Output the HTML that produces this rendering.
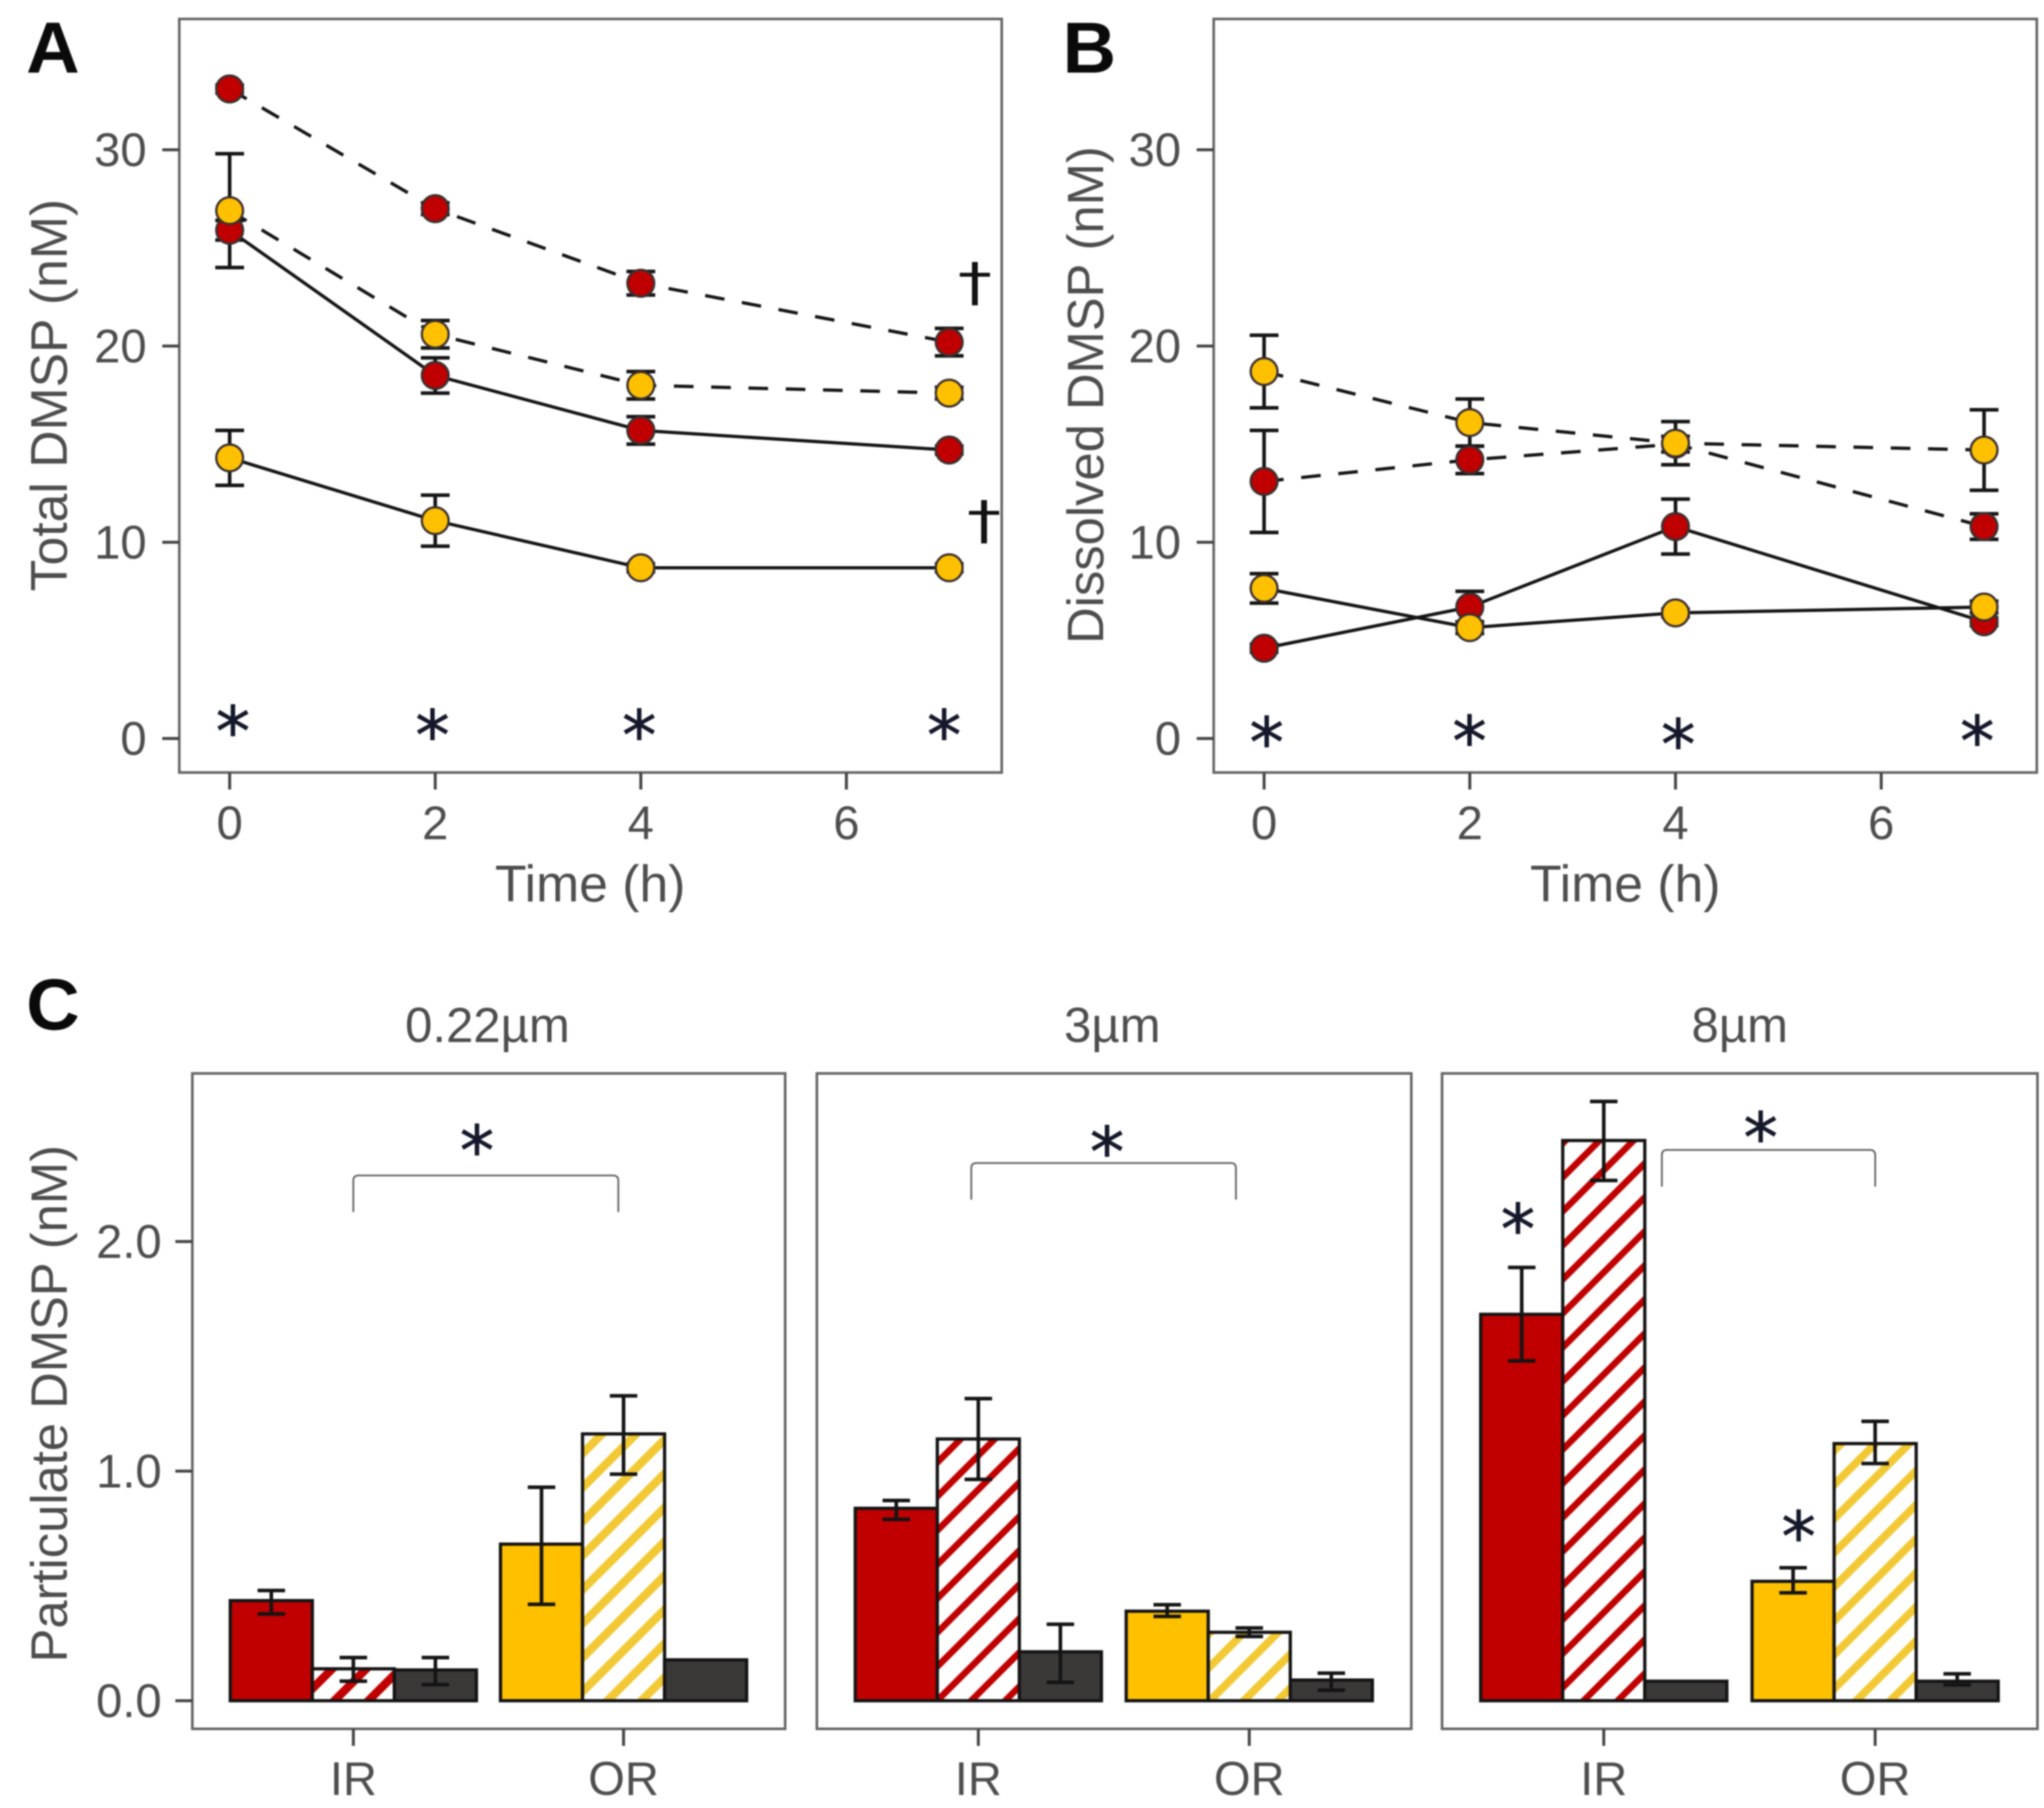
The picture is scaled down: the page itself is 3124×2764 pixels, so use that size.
<!DOCTYPE html>
<html lang="en">
<head>
<meta charset="utf-8">
<title>DMSP concentrations</title>
<style>
html,body{margin:0;padding:0;background:#fff;}
#figure{display:block;width:3124px;height:2764px;filter:blur(1.1px);}
text{font-family:"Liberation Sans",sans-serif;fill:#4d4d4d;}
.tick{font-size:72px;}
.title{font-size:79px;}
.title-long{font-size:77.5px;}
.facet{font-size:75px;}
.panel{fill:#fff;stroke:#666;stroke-width:4;}
.tickmark{stroke:#444;stroke-width:4.5;}
.letter{font-size:110px;font-weight:bold;fill:#0a0a0a;}
.star{font-family:"DejaVu Sans",sans-serif;font-size:105px;fill:#14182a;stroke:#14182a;stroke-width:1;text-anchor:middle;}
.dagger{font-family:"DejaVu Sans",sans-serif;font-size:80px;fill:#111;text-anchor:middle;}
.bracket{fill:none;stroke:#666;stroke-width:2.8;}
</style>
</head>
<body>
<svg id="figure" xmlns="http://www.w3.org/2000/svg" width="3124" height="2764" viewBox="0 0 3124 2764">
  <defs>
    <pattern id="hatch-red" width="36.77" height="36.77" patternUnits="userSpaceOnUse" patternTransform="rotate(-45)">
      <rect width="36.77" height="36.77" fill="#fff"/>
      <rect y="15" width="36.77" height="10" fill="#c00000"/>
    </pattern>
    <pattern id="hatch-yellow" width="36.77" height="36.77" patternUnits="userSpaceOnUse" patternTransform="rotate(-45)">
      <rect width="36.77" height="36.77" fill="#fff"/>
      <rect y="14.5" width="36.77" height="12" fill="#f2c935"/>
    </pattern>
    <pattern id="hatch-red-c1" width="36.77" height="36.77" patternUnits="userSpaceOnUse" patternTransform="rotate(-45)">
      <rect width="36.77" height="36.77" fill="#fff"/>
      <rect y="24" width="36.77" height="13" fill="#c00000"/>
    </pattern>
    <pattern id="hatch-yellow-c1" width="36.77" height="36.77" patternUnits="userSpaceOnUse" patternTransform="rotate(-45)">
      <rect width="36.77" height="36.77" fill="#fff"/>
      <rect y="25" width="36.77" height="11.77" fill="#f2c935"/>
      <rect y="0" width="36.77" height="1" fill="#f2c935"/>
    </pattern>
  </defs>

  <rect class="panel" x="274" y="29" width="1257" height="1152"/>
  <rect class="panel" x="1855" y="29" width="1258" height="1152"/>
  <rect class="panel" x="294" y="1641" width="906" height="1002"/>
  <rect class="panel" x="1248.5" y="1641" width="908.5" height="1002"/>
  <rect class="panel" x="2204" y="1641" width="910" height="1002"/>

  <g id="axes-layer"></g>
  <g id="marks-layer"></g>

  <text class="letter" transform="translate(40 111) scale(1.03 1)">A</text>
  <text class="letter" transform="translate(1624 111) scale(1.03 1)">B</text>
  <text class="letter" transform="translate(40 1574) scale(1.03 1)">C</text>

  <text class="title" text-anchor="middle" transform="translate(102 604) rotate(-90)">Total DMSP (nM)</text>
  <text class="title-long" text-anchor="middle" transform="translate(1686 604) rotate(-90)">Dissolved DMSP (nM)</text>
  <text class="title-long" text-anchor="middle" transform="translate(102 2146) rotate(-90)">Particulate DMSP (nM)</text>
  <text class="title" text-anchor="middle" x="902" y="1378">Time (h)</text>
  <text class="title" text-anchor="middle" x="2484" y="1378">Time (h)</text>
  <text class="facet" text-anchor="middle" x="745" y="1593">0.22µm</text>
  <text class="facet" text-anchor="middle" x="1700" y="1593">3µm</text>
  <text class="facet" text-anchor="middle" x="2659" y="1593">8µm</text>

  <text class="star" x="356" y="1155">*</text>
  <text class="star" x="661" y="1161">*</text>
  <text class="star" x="977" y="1161">*</text>
  <text class="star" x="1443" y="1161">*</text>
  <text class="star" x="1936" y="1172">*</text>
  <text class="star" x="2246" y="1170">*</text>
  <text class="star" x="2565" y="1175">*</text>
  <text class="star" x="3022" y="1170">*</text>
  <text class="star" x="729" y="1796">*</text>
  <text class="star" x="1692" y="1798">*</text>
  <text class="star" x="2691" y="1776">*</text>
  <text class="star" x="2320" y="1916">*</text>
  <text class="star" x="2749" y="2386">*</text>
  <text class="dagger" transform="translate(1490 459) scale(1.3 1)">†</text>
  <text class="dagger" transform="translate(1504 823) scale(1.3 1)">†</text>

  <path class="bracket" d="M540 1853V1805Q540 1797 548 1797H937Q945 1797 945 1805V1853"/>
  <path class="bracket" d="M1484.5 1834V1786Q1484.5 1778 1492.5 1778H1881Q1889 1778 1889 1786V1834"/>
  <path class="bracket" d="M2540 1814V1766Q2540 1758 2548 1758H2858Q2866 1758 2866 1766V1814"/>
</svg>

<script>
const timePoints = [0, 2, 4, 7];
const timeTicks = [0, 2, 4, 6];
const dmspTicks = [0, 10, 20, 30];
const particulateTicks = [0, 1, 2];
const particulateTickLabels = ['0.0', '1.0', '2.0'];
const stations = ['IR', 'OR'];

const aRedDashed = [33.1, 27.0, 23.2, 20.2];
const aRedDashedErr = [0.2, 0.3, 0.6, 0.7];
const aRedSolid = [25.9, 18.5, 15.7, 14.7];
const aRedSolidErr = [0.5, 0.9, 0.7, 0.2];
const aYellowDashed = [26.9, 20.6, 18.0, 17.6];
const aYellowDashedErr = [2.9, 0.7, 0.7, 0.3];
const aYellowSolid = [14.3, 11.1, 8.7, 8.7];
const aYellowSolidErr = [1.4, 1.3, 0.2, 0.2];

const bRedDashed = [13.1, 14.2, 15.0, 10.8];
const bRedDashedErr = [2.6, 0.7, 0.4, 0.65];
const bRedSolid = [4.6, 6.7, 10.8, 5.95];
const bRedSolidErr = [0.2, 0.8, 1.4, 0.2];
const bYellowDashed = [18.7, 16.1, 15.05, 14.7];
const bYellowDashedErr = [1.85, 1.2, 1.1, 2.05];
const bYellowSolid = [7.65, 5.65, 6.4, 6.7];
const bYellowSolidErr = [0.75, 0.3, 0.2, 0.3];

const c1Values = [0.436, 0.139, 0.134, 0.682, 1.162, 0.178];
const c1Low = [0.378, 0.085, 0.07, 0.42, 0.987, null];
const c1High = [0.48, 0.188, 0.188, 0.93, 1.328, null];
const c2Values = [0.838, 1.14, 0.213, 0.39, 0.298, 0.09];
const c2Low = [0.79, 0.964, 0.08, 0.367, 0.28, 0.046];
const c2High = [0.872, 1.316, 0.333, 0.418, 0.317, 0.12];
const c3Values = [1.683, 2.44, 0.085, 0.52, 1.12, 0.085];
const c3Low = [1.48, 2.266, null, 0.47, 1.033, 0.069];
const c3High = [1.887, 2.61, null, 0.579, 1.217, 0.117];

const SVGNS = 'http://www.w3.org/2000/svg';
const axesLayer = document.getElementById('axes-layer');
const marksLayer = document.getElementById('marks-layer');
const RED = '#c00000';
const YELLOW = '#ffc000';
const DARK = '#3b3838';

function make(tag, parent, attrs) {
  const node = document.createElementNS(SVGNS, tag);
  Object.keys(attrs).forEach(function (k) { node.setAttribute(k, attrs[k]); });
  parent.appendChild(node);
  return node;
}

function yTime(v) { return 1129 - 30 * v; }
function xPanelA(t) { return 351 + 157.1 * t; }
function xPanelB(t) { return 1932 + 157.2 * t; }
function yBar(v) { return 2600 - 351 * v; }

function drawTimeAxes(prefix, xFn, frameLeft, frameBottom) {
  timeTicks.forEach(function (t) {
    const m = make('line', axesLayer, { x1: xFn(t), x2: xFn(t), y1: frameBottom, y2: frameBottom + 26, class: 'tickmark' });
    
    
    const l = make('text', axesLayer, { x: xFn(t), y: 1283, class: 'tick', 'text-anchor': 'middle' });
    l.textContent = String(t);
    
    
  });
  dmspTicks.forEach(function (v) {
    const m = make('line', axesLayer, { x1: frameLeft - 26, x2: frameLeft, y1: yTime(v), y2: yTime(v), class: 'tickmark' });
    
    
    const l = make('text', axesLayer, { x: frameLeft - 50, y: yTime(v) + 25, class: 'tick', 'text-anchor': 'end' });
    l.textContent = String(v);
    
    
  });
}

function drawError(parent, x, yTop, yBottom, half) {
  return make('path', parent, {
    d: 'M' + (x - half) + ' ' + yTop + 'H' + (x + half) + 'M' + x + ' ' + yTop + 'V' + yBottom + 'M' + (x - half) + ' ' + yBottom + 'H' + (x + half),
    fill: 'none', stroke: '#141414', 'stroke-width': 5.5
  });
}

function drawSeriesLines(name, xFn, vals, errs, dashed) {
  const g = make('g', marksLayer, {});
  
  
  timePoints.forEach(function (t, i) {
    const e = drawError(g, xFn(t), yTime(vals[i] + errs[i]), yTime(vals[i] - errs[i]), 22);
    
    
  });
  const pts = timePoints.map(function (t, i) { return xFn(t) + ',' + yTime(vals[i]); }).join(' ');
  const attrs = { points: pts, fill: 'none', stroke: '#141414', 'stroke-width': 5 };
  if (dashed) { attrs['stroke-dasharray'] = '30 27'; }
  const line = make('polyline', g, attrs);
  
  
}

function drawSeriesPoints(name, xFn, vals, color) {
  timePoints.forEach(function (t, i) {
    const c = make('circle', marksLayer, { cx: xFn(t), cy: yTime(vals[i]), r: 20.5, fill: color, stroke: '#3a3030', 'stroke-width': 3.5 });
    
    
  });
}

drawTimeAxes('panel-a', xPanelA, 274, 1181);
drawTimeAxes('panel-b', xPanelB, 1855, 1181);

drawSeriesLines('a-red-solid', xPanelA, aRedSolid, aRedSolidErr, false);
drawSeriesLines('a-red-dashed', xPanelA, aRedDashed, aRedDashedErr, true);
drawSeriesLines('a-yellow-solid', xPanelA, aYellowSolid, aYellowSolidErr, false);
drawSeriesLines('a-yellow-dashed', xPanelA, aYellowDashed, aYellowDashedErr, true);
drawSeriesPoints('a-red-solid', xPanelA, aRedSolid, RED);
drawSeriesPoints('a-red-dashed', xPanelA, aRedDashed, RED);
drawSeriesPoints('a-yellow-solid', xPanelA, aYellowSolid, YELLOW);
drawSeriesPoints('a-yellow-dashed', xPanelA, aYellowDashed, YELLOW);

drawSeriesLines('b-red-solid', xPanelB, bRedSolid, bRedSolidErr, false);
drawSeriesLines('b-red-dashed', xPanelB, bRedDashed, bRedDashedErr, true);
drawSeriesLines('b-yellow-solid', xPanelB, bYellowSolid, bYellowSolidErr, false);
drawSeriesLines('b-yellow-dashed', xPanelB, bYellowDashed, bYellowDashedErr, true);
drawSeriesPoints('b-red-solid', xPanelB, bRedSolid, RED);
drawSeriesPoints('b-red-dashed', xPanelB, bRedDashed, RED);
drawSeriesPoints('b-yellow-solid', xPanelB, bYellowSolid, YELLOW);
drawSeriesPoints('b-yellow-dashed', xPanelB, bYellowDashed, YELLOW);

particulateTicks.forEach(function (v, i) {
  const m = make('line', axesLayer, { x1: 268, x2: 294, y1: yBar(v), y2: yBar(v), class: 'tickmark' });
  
  
  const l = make('text', axesLayer, { x: 247, y: yBar(v) + 25, class: 'tick', 'text-anchor': 'end' });
  l.textContent = particulateTickLabels[i];
  
  
});

function drawBarPanel(name, left, width, vals, low, high, redHatch, yellowHatch) {
  const barW = 125.4;
  const fills = [RED, redHatch, DARK, YELLOW, yellowHatch, DARK];
  function bandCenter(s) { return left + width * (s === 0 ? 0.2716 : 0.7274); }
  stations.forEach(function (st, s) {
    const cx = bandCenter(s);
    const m = make('line', axesLayer, { x1: cx, x2: cx, y1: 2643, y2: 2669, class: 'tickmark' });
    
    
    const l = make('text', axesLayer, { x: cx, y: 2744, class: 'tick', 'text-anchor': 'middle' });
    l.textContent = st;
    
    
  });
  const kinds = ['red-solid', 'red-hatched', 'dark', 'yellow-solid', 'yellow-hatched', 'dark'];
  vals.forEach(function (v, i) {
    const s = i < 3 ? 0 : 1;
    const x = bandCenter(s) + (i % 3 - 1.5) * barW;
    const r = make('rect', marksLayer, { x: x, y: yBar(v), width: barW, height: yBar(0) - yBar(v), fill: fills[i], stroke: '#141414', 'stroke-width': 5 });
    
    
  });
  vals.forEach(function (v, i) {
    if (low[i] === null) { return; }
    const s = i < 3 ? 0 : 1;
    const x = bandCenter(s) + (i % 3 - 1) * barW;
    const e = drawError(marksLayer, x, yBar(high[i]), yBar(low[i]), 21);
    
    
  });
}

drawBarPanel('panel-c1', 294, 906, c1Values, c1Low, c1High, 'url(#hatch-red-c1)', 'url(#hatch-yellow-c1)');
drawBarPanel('panel-c2', 1248.5, 908.5, c2Values, c2Low, c2High, 'url(#hatch-red)', 'url(#hatch-yellow)');
drawBarPanel('panel-c3', 2204, 910, c3Values, c3Low, c3High, 'url(#hatch-red)', 'url(#hatch-yellow)');
</script>
</body>
</html>
